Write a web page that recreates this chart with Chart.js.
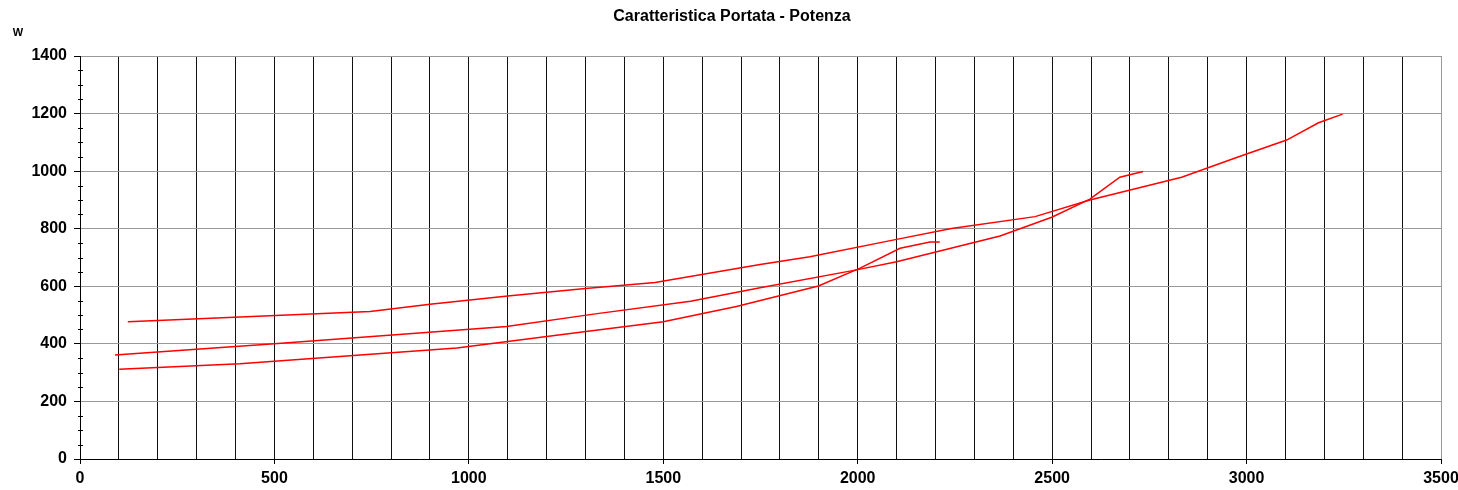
<!DOCTYPE html>
<html>
<head>
<meta charset="utf-8">
<title>Caratteristica Portata - Potenza</title>
<script src="https://cdn.jsdelivr.net/npm/chart.js@4/dist/chart.umd.min.js"></script>
<style>
    body { margin: 0; background: #fff; }
    canvas { display: block; }
</style>
</head>
<body>
<canvas id="chart" width="1458" height="490"></canvas>
<script>
// Caratteristica Portata - Potenza (portata in m3/h, potenza in W)

const titleText = 'Caratteristica Portata - Potenza';
const unitLabel = 'W';

// Curve 1 (alta)
const portata1 = [123, 746, 900, 1100, 1300, 1479, 1749, 1877, 2100, 2241, 2456, 2597, 2833, 2978, 3103, 3185, 3247];
const potenza1 = [477, 512, 538, 566, 592, 613, 676, 703, 763, 801, 842, 900, 979, 1049, 1108, 1168, 1198];

// Curve 2 (media)
const portata2 = [90, 500, 1097, 1330, 1570, 1749, 1997, 2100, 2366, 2499, 2597, 2674, 2734];
const potenza2 = [361, 400, 460, 505, 548, 595, 657, 685, 775, 840, 903, 979, 999];

// Curve 3 (bassa)
const portata3 = [101, 411, 969, 1286, 1500, 1688, 1899, 2006, 2109, 2186, 2211];
const potenza3 = [312, 331, 386, 440, 477, 530, 601, 663, 732, 754, 754];

const xTicks = { min: 0, max: 3500, grid: 100, label: 500 };
const yTicks = { min: 0, max: 1400, step: 200, minor: 50 };

function toPoints(xs, ys) {
    return xs.map((x, i) => ({ x: x, y: ys[i] }));
}

const lineStyle = {
    borderColor: '#ff0000',
    borderWidth: 1.5,
    pointRadius: 0,
    tension: 0,
    fill: false
};

const fontFamily = 'Arial, "Liberation Sans", sans-serif';

// Title, unit label and y minor ticks
const decorations = {
    id: 'decorations',
    afterDraw(chart) {
        const ctx = chart.ctx;
        const y = chart.scales.y;
        ctx.save();
        ctx.fillStyle = '#000';
        ctx.textAlign = 'center';
        ctx.textBaseline = 'middle';
        ctx.font = 'bold 16px ' + fontFamily;
        ctx.fillText(titleText, 732, 17);
        ctx.font = 'bold 11px ' + fontFamily;
        ctx.fillText(unitLabel, 18, 33);

        ctx.strokeStyle = '#000';
        ctx.lineWidth = 1;
        ctx.beginPath();
        for (let v = yTicks.min; v <= yTicks.max; v += yTicks.minor) {
            if (v % yTicks.step === 0) continue;
            const py = Math.round(y.getPixelForValue(v)) + 0.5;
            ctx.moveTo(y.right - 2, py);
            ctx.lineTo(y.right + 3, py);
        }
        ctx.stroke();
        ctx.restore();
    }
};

const tickFont = { family: fontFamily, size: 16, weight: 'bold' };

new Chart(document.getElementById('chart'), {
    type: 'line',
    data: {
        datasets: [
            { label: 'Curva 1', data: toPoints(portata1, potenza1), ...lineStyle },
            { label: 'Curva 2', data: toPoints(portata2, potenza2), ...lineStyle },
            { label: 'Curva 3', data: toPoints(portata3, potenza3), ...lineStyle }
        ]
    },
    options: {
        responsive: false,
        animation: false,
        layout: { padding: { top: 56, right: 17, left: 0, bottom: 0 } },
        plugins: {
            legend: { display: false },
            title: { display: false },
            tooltip: { enabled: false }
        },
        scales: {
            x: {
                type: 'linear',
                min: xTicks.min,
                max: xTicks.max,
                afterFit: (scale) => {
                    scale.height = 31;
                    scale.paddingLeft = 0;
                    scale.paddingRight = 0;
                },
                ticks: {
                    stepSize: xTicks.grid,
                    autoSkip: false,
                    maxRotation: 0,
                    padding: 5,
                    color: '#000',
                    font: tickFont,
                    callback: (v) => (v % xTicks.label === 0 ? String(v) : '')
                },
                grid: {
                    color: (c) => (c.tick && c.tick.value === xTicks.max ? '#999' : '#111'),
                    lineWidth: 1,
                    tickLength: 5,
                    tickColor: (c) => (c.tick && c.tick.value % xTicks.label === 0 ? '#000' : 'rgba(0,0,0,0)')
                },
                border: { color: '#000', width: 1 }
            },
            y: {
                min: yTicks.min,
                max: yTicks.max,
                afterFit: (scale) => {
                    scale.width = 80;
                    scale.paddingTop = 0;
                    scale.paddingBottom = 0;
                },
                ticks: {
                    stepSize: yTicks.step,
                    padding: 7,
                    color: '#000',
                    font: tickFont,
                    callback: (v) => String(v)
                },
                grid: {
                    color: '#999',
                    lineWidth: 1,
                    tickLength: 6,
                    tickColor: '#000'
                },
                border: { color: '#000', width: 1 }
            }
        }
    },
    plugins: [decorations]
});
</script>
</body>
</html>
